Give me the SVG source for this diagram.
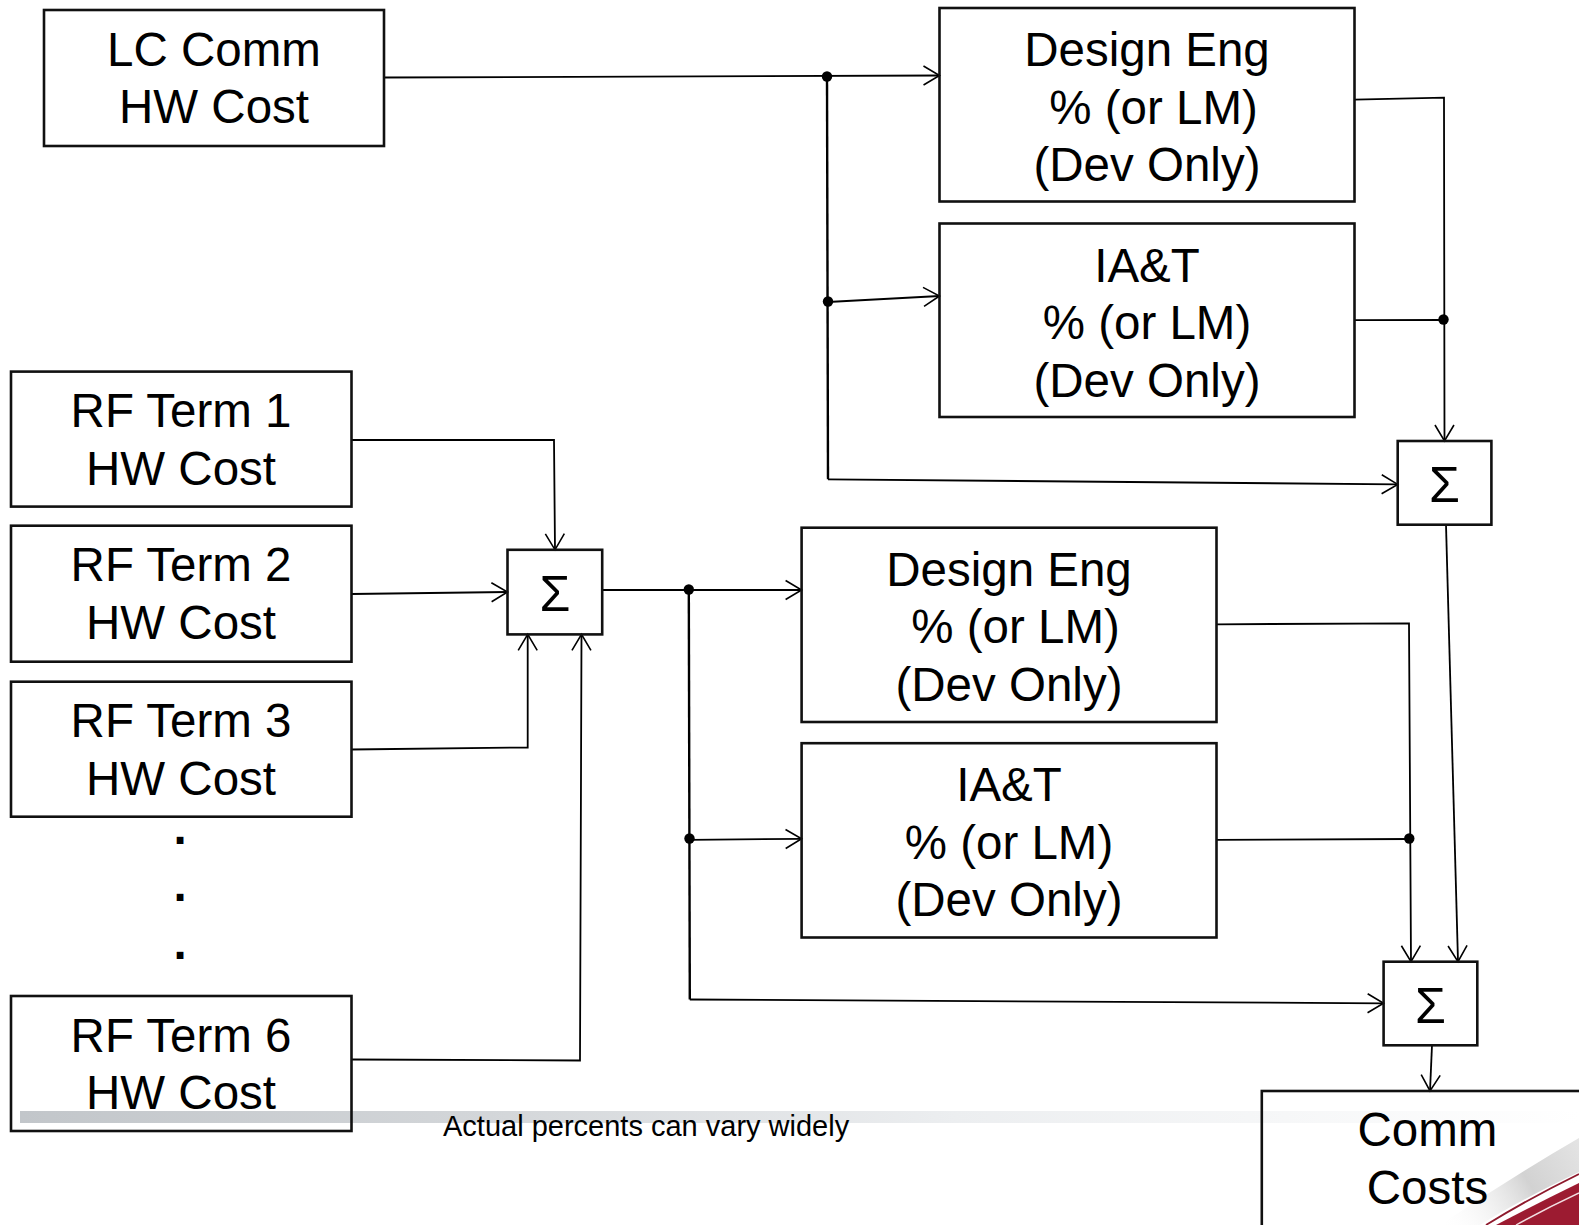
<svg xmlns="http://www.w3.org/2000/svg" width="1579" height="1225" viewBox="0 0 1579 1225">
<defs>
<style>
.box{fill:none;stroke:#111;stroke-width:2.6}
.t{font-family:"Liberation Sans",Arial,sans-serif;font-size:47.5px;fill:#000;text-anchor:middle}
.dot{font-family:"Liberation Sans",Arial,sans-serif;font-size:47.5px;font-weight:bold;fill:#000;text-anchor:middle}
.sig{font-family:"Liberation Sans",Arial,sans-serif;font-size:50px;fill:#000;text-anchor:middle}
.ln{fill:none;stroke:#000;stroke-width:1.8}
.lnb{fill:none;stroke:#000;stroke-width:2.4}
.note{font-family:"Liberation Sans",Arial,sans-serif;font-size:29px;fill:#000}
</style>
<marker id="arr" markerUnits="userSpaceOnUse" markerWidth="22" markerHeight="26" viewBox="-19 -13 22 26" refX="0" refY="0" orient="auto">
<path d="M-16,-9.5 L0,0 L-16,9.5" fill="none" stroke="#000" stroke-width="1.6"/>
</marker>
<linearGradient id="bar" x1="20" y1="0" x2="1579" y2="0" gradientUnits="userSpaceOnUse">
<stop offset="0" stop-color="#c2c6ca"/>
<stop offset="0.3" stop-color="#d3d6d9"/>
<stop offset="0.6" stop-color="#eceef0"/>
<stop offset="1" stop-color="#ffffff"/>
</linearGradient>
<linearGradient id="shade" x1="1440" y1="1225" x2="1579" y2="1140" gradientUnits="userSpaceOnUse">
<stop offset="0" stop-color="#ffffff" stop-opacity="0"/>
<stop offset="0.6" stop-color="#d2d2d2"/>
<stop offset="1" stop-color="#e4e4e4"/>
</linearGradient>
</defs>

<g id="background">
<rect x="0" y="0" width="1579" height="1225" fill="#fff"/>
<rect x="20" y="1111" width="1559" height="12" fill="url(#bar)"/>
<path d="M1440,1225 Q1510,1178 1579,1138 L1579,1172 Q1520,1200 1480,1225 Z" fill="url(#shade)"/>
<path d="M1496,1225 Q1538,1203 1579,1183 L1579,1225 Z" fill="#9c1b31"/>
<path d="M1486,1225 Q1530,1198 1579,1174" fill="none" stroke="#8e1a2d" stroke-width="1.8"/>
<path d="M1516,1225 Q1547,1208 1579,1193" fill="none" stroke="#f2dfe2" stroke-width="1.4"/>
</g>

<g id="connectors">
<path class="ln" d="M384,77.5 L939.5,75.5" marker-end="url(#arr)"/>
<path class="lnb" d="M827,76.5 L828,479.3"/>
<path class="ln" d="M828,302 L939.5,296" marker-end="url(#arr)"/>
<path class="ln" d="M828,479.3 L1397.7,484.4" marker-end="url(#arr)"/>
<path class="ln" d="M1354.5,99.7 L1444,97.7 L1444.5,441" marker-end="url(#arr)"/>
<path class="ln" d="M1354.5,320.2 L1443.5,320"/>
<path class="ln" d="M1446,524.7 L1458,961.7" marker-end="url(#arr)"/>
<path class="ln" d="M351.5,440 L554,440 L555,549.8" marker-end="url(#arr)"/>
<path class="ln" d="M351.5,594 L507.5,592" marker-end="url(#arr)"/>
<path class="ln" d="M351.5,749.5 L527.7,747.5 L527.7,634.4" marker-end="url(#arr)"/>
<path class="ln" d="M351.5,1059.5 L580,1060.5 L581.5,634.4" marker-end="url(#arr)"/>
<path class="ln" d="M602.2,590 L801.6,590" marker-end="url(#arr)"/>
<path class="lnb" d="M688.8,589.5 L689.8,999.5"/>
<path class="ln" d="M689.8,839.8 L801.6,838.8" marker-end="url(#arr)"/>
<path class="ln" d="M689.8,999.5 L1383.6,1003.3" marker-end="url(#arr)"/>
<path class="ln" d="M1216.5,624.3 L1409,623.3 L1411,961.7" marker-end="url(#arr)"/>
<path class="ln" d="M1216.5,839.8 L1409.5,839"/>
<path class="ln" d="M1432,1045.3 L1430,1091" marker-end="url(#arr)"/>
<circle cx="827" cy="76.5" r="5.2"/>
<circle cx="828" cy="301.5" r="5.2"/>
<circle cx="1443.5" cy="319.5" r="5.2"/>
<circle cx="688.8" cy="589.5" r="5.2"/>
<circle cx="689.5" cy="838.5" r="5.2"/>
<circle cx="1409.3" cy="838.5" r="5.2"/>
</g>

<g id="lc-comm">
<rect class="box" x="44" y="10" width="340" height="136"/>
<text class="t" x="214" y="65.5">LC Comm</text>
<text class="t" x="214" y="123">HW Cost</text>
</g>

<g id="design-eng-top">
<rect class="box" x="939.5" y="8" width="415" height="193.5"/>
<text class="t" x="1147" y="66">Design Eng</text>
<text class="t" x="1153.6" y="123.6">% (or LM)</text>
<text class="t" x="1147" y="181.2">(Dev Only)</text>
</g>

<g id="iat-top">
<rect class="box" x="939.5" y="223.5" width="415" height="193.5"/>
<text class="t" x="1147" y="281.5">IA&amp;T</text>
<text class="t" x="1147" y="339">% (or LM)</text>
<text class="t" x="1147" y="396.6">(Dev Only)</text>
</g>

<g id="sum-top">
<rect class="box" x="1397.7" y="441" width="93.7" height="83.7"/>
<text class="sig" x="1444.5" y="502.4">Σ</text>
</g>

<g id="rf-term-1">
<rect class="box" x="11" y="371.6" width="340.5" height="135"/>
<text class="t" x="181" y="427">RF Term 1</text>
<text class="t" x="181" y="484.6">HW Cost</text>
</g>

<g id="rf-term-2">
<rect class="box" x="11" y="525.7" width="340.5" height="136"/>
<text class="t" x="181" y="581.2">RF Term 2</text>
<text class="t" x="181" y="638.8">HW Cost</text>
</g>

<g id="rf-term-3">
<rect class="box" x="11" y="681.7" width="340.5" height="135"/>
<text class="t" x="181" y="737.2">RF Term 3</text>
<text class="t" x="181" y="794.8">HW Cost</text>
</g>

<g id="ellipsis">
<text class="dot" x="180" y="843.5">.</text>
<text class="dot" x="180" y="901">.</text>
<text class="dot" x="180" y="958.7">.</text>
</g>

<g id="rf-term-6">
<rect class="box" x="11" y="996" width="340.5" height="135"/>
<text class="t" x="181" y="1051.5">RF Term 6</text>
<text class="t" x="181" y="1109">HW Cost</text>
</g>

<g id="sum-mid">
<rect class="box" x="507.5" y="549.8" width="94.7" height="84.6"/>
<text class="sig" x="555" y="611">Σ</text>
</g>

<g id="design-eng-mid">
<rect class="box" x="801.6" y="527.7" width="414.9" height="194.3"/>
<text class="t" x="1009" y="585.7">Design Eng</text>
<text class="t" x="1015.6" y="643.3">% (or LM)</text>
<text class="t" x="1009" y="700.9">(Dev Only)</text>
</g>

<g id="iat-mid">
<rect class="box" x="801.6" y="743.2" width="414.9" height="194.3"/>
<text class="t" x="1009" y="801.2">IA&amp;T</text>
<text class="t" x="1009" y="858.8">% (or LM)</text>
<text class="t" x="1009" y="916.4">(Dev Only)</text>
</g>

<g id="sum-bottom">
<rect class="box" x="1383.6" y="961.7" width="93.7" height="83.6"/>
<text class="sig" x="1430.5" y="1023">Σ</text>
</g>

<g id="comm-costs">
<rect class="box" x="1261.8" y="1091" width="340" height="160"/>
<text class="t" x="1427.5" y="1146">Comm</text>
<text class="t" x="1427.5" y="1203.5">Costs</text>
</g>

<g id="note">
<text class="note" x="443" y="1136">Actual percents can vary widely</text>
</g>
</svg>
